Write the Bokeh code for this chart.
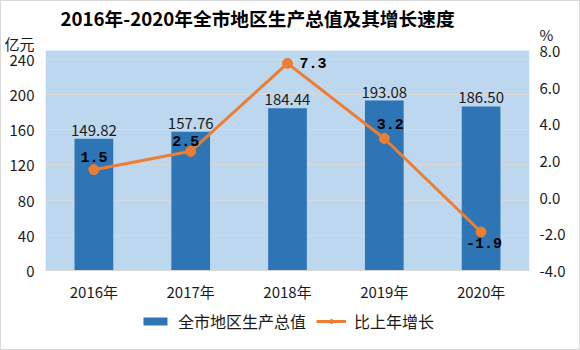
from bokeh.plotting import figure
from bokeh.layouts import column
from bokeh.models import (Range1d, LinearAxis, FixedTicker, NumeralTickFormatter,
                          BoxAnnotation, Legend, LegendItem, ColumnDataSource)
from bokeh.core.properties import value
from bokeh.embed import file_html
from bokeh.resources import INLINE

years = ["2016年", "2017年", "2018年", "2019年", "2020年"]
gdp = [149.82, 157.76, 184.44, 193.08, 186.50]
growth = [1.5, 2.5, 7.3, 3.2, -1.9]
left_ticks = [0, 40, 80, 120, 160, 200, 240]
right_ticks = [-4, -2, 0, 2, 4, 6, 8]
left_max = 250
right_min, right_max = -4, 8
series_names = ["全市地区生产总值", "比上年增长"]

gdp_labels = [f"{v:.2f}" for v in gdp]
growth_labels = [f"{v:.1f}" for v in growth]

# label placement styles for the growth labels (pixel nudges)
g_dx = [0, -5, 12, 6, 3]
g_dy = [-8, -5, 0, -10, 6]
g_align = ["center", "center", "left", "center", "center"]
g_base = ["bottom", "bottom", "middle", "bottom", "top"]

CJK = "Noto Sans CJK SC"
BLUE = "#2E75B6"
ORANGE = "#ED7D31"
TXT = "#1a1a1a"

# layout: plot area (blue) is 220 px tall, frame extends 20 px above it for unit labels
AREA_H = 220
EXTRA = 20
l_top = left_max * (AREA_H + EXTRA) / AREA_H
r_top = right_min + (right_max - right_min) * (AREA_H + EXTRA) / AREA_H
unit_l_val = left_max * (AREA_H + 7.5) / AREA_H
unit_r_val = right_min + (right_max - right_min) * (AREA_H + 16.5) / AREA_H

MAIN_H = 307
p = figure(width=578, height=MAIN_H, x_range=years, y_range=Range1d(0, l_top),
           output_backend="svg", toolbar_location=None,
           min_border_left=43, min_border_right=50, min_border_top=29,
           min_border_bottom=MAIN_H - 269)
p.extra_y_ranges = {"pct": Range1d(right_min, r_top)}
p.background_fill_color = "white"
p.border_fill_color = "white"
p.outline_line_color = None

p.title.text = "2016年-2020年全市地区生产总值及其增长速度"
p.title.align = "left"
p.title.offset = 15
p.title.standoff = 0
p.title.text_font = CJK
p.title.text_font_style = "bold"
p.title.text_font_size = "18.7px"
p.title.text_color = "black"

p.add_layout(BoxAnnotation(bottom=0, top=left_max, fill_color="#BDD7EE", fill_alpha=1,
                           line_color=None, level="image"))

# axes
p.yaxis.ticker = FixedTicker(ticks=left_ticks + [unit_l_val])
p.yaxis.major_label_overrides = {unit_l_val: "亿元"}
p.yaxis.axis_line_color = None
p.yaxis.major_tick_line_color = None
p.yaxis.minor_tick_line_color = None
p.yaxis.major_tick_out = 0
p.yaxis.minor_tick_out = 0
p.yaxis.major_label_standoff = 11
p.yaxis.major_label_text_font = CJK
p.yaxis.major_label_text_font_size = "15px"
p.yaxis.major_label_text_color = TXT

p.xaxis.axis_line_color = "#D9D9D9"
p.xaxis.major_tick_line_color = None
p.xaxis.minor_tick_line_color = None
p.xaxis.major_tick_out = 0
p.xaxis.minor_tick_out = 0
p.xaxis.major_label_standoff = 10
p.xaxis.major_label_text_font = CJK
p.xaxis.major_label_text_font_size = "15px"
p.xaxis.major_label_text_color = TXT

ra = LinearAxis(y_range_name="pct", ticker=FixedTicker(ticks=right_ticks + [unit_r_val]),
                formatter=NumeralTickFormatter(format="0.0"),
                major_label_overrides={unit_r_val: "%"})
ra.axis_line_color = None
ra.major_tick_line_color = None
ra.minor_tick_line_color = None
ra.major_tick_out = 0
ra.minor_tick_out = 0
ra.major_label_standoff = 10
ra.major_label_text_font = CJK
ra.major_label_text_font_size = "15px"
ra.major_label_text_color = TXT
p.add_layout(ra, "right")

p.xgrid.grid_line_color = None
p.ygrid.ticker = FixedTicker(ticks=left_ticks)
p.ygrid.grid_line_color = "#D9D9D9"
p.ygrid.grid_line_width = 1

bsrc = ColumnDataSource(dict(x=years, top=gdp, lab=gdp_labels))
bar_kw = dict(width=0.4, fill_color=BLUE, line_color=None)
p.vbar(x="x", top="top", source=bsrc, **bar_kw)
p.text(x="x", y="top", text="lab", source=bsrc, text_align="center", text_baseline="bottom",
       y_offset=-3, text_font=value(CJK), text_font_size="15px", text_color=TXT)

lsrc = ColumnDataSource(dict(x=years, y=growth, lab=growth_labels, dx=g_dx, dy=g_dy,
                             al=g_align, bl=g_base))
line_kw = dict(line_color=ORANGE, line_width=3)
pt_kw = dict(size=10, fill_color=ORANGE, line_color=ORANGE)
p.line(x="x", y="y", source=lsrc, y_range_name="pct", **line_kw)
p.scatter(x="x", y="y", source=lsrc, y_range_name="pct", **pt_kw)
p.text(x="x", y="y", text="lab", source=lsrc, y_range_name="pct", x_offset="dx", y_offset="dy",
       text_align="al", text_baseline="bl", text_font=value("Liberation Mono"),
       text_font_style="bold", text_font_size="15px", text_color="black")

# legend strip below the chart (same series as hidden renderers, only the legend shows)
lg = figure(width=578, height=348 - MAIN_H, x_range=years, y_range=Range1d(0, 1),
            x_axis_type=None, y_axis_type=None, output_backend="svg", toolbar_location=None,
            min_border=0, min_border_left=0, min_border_right=0,
            min_border_top=0, min_border_bottom=0)
lg.outline_line_color = None
lg.background_fill_color = "white"
lg.border_fill_color = "white"
r_bar = lg.vbar(x="x", top="top", source=bsrc, visible=False, **bar_kw)
r_line = lg.line(x="x", y="y", source=lsrc, visible=False, **line_kw)
r_pts = lg.scatter(x="x", y="y", source=lsrc, visible=False, **pt_kw)
legend = Legend(items=[LegendItem(label=series_names[0], renderers=[r_bar]),
                       LegendItem(label=series_names[1], renderers=[r_line, r_pts])],
                orientation="horizontal", location="top_center",
                glyph_width=30, glyph_height=10, label_standoff=8, spacing=10,
                padding=0, margin=1, border_line_color=None, background_fill_alpha=0,
                inactive_fill_alpha=0,
                label_text_font=CJK, label_text_font_size="16px", label_text_color=TXT)
lg.add_layout(legend, "center")

layout = column(p, lg, spacing=0, styles={"border": "1px solid #D9D9D9"})
open("out.html", "w").write(file_html(layout, INLINE))
